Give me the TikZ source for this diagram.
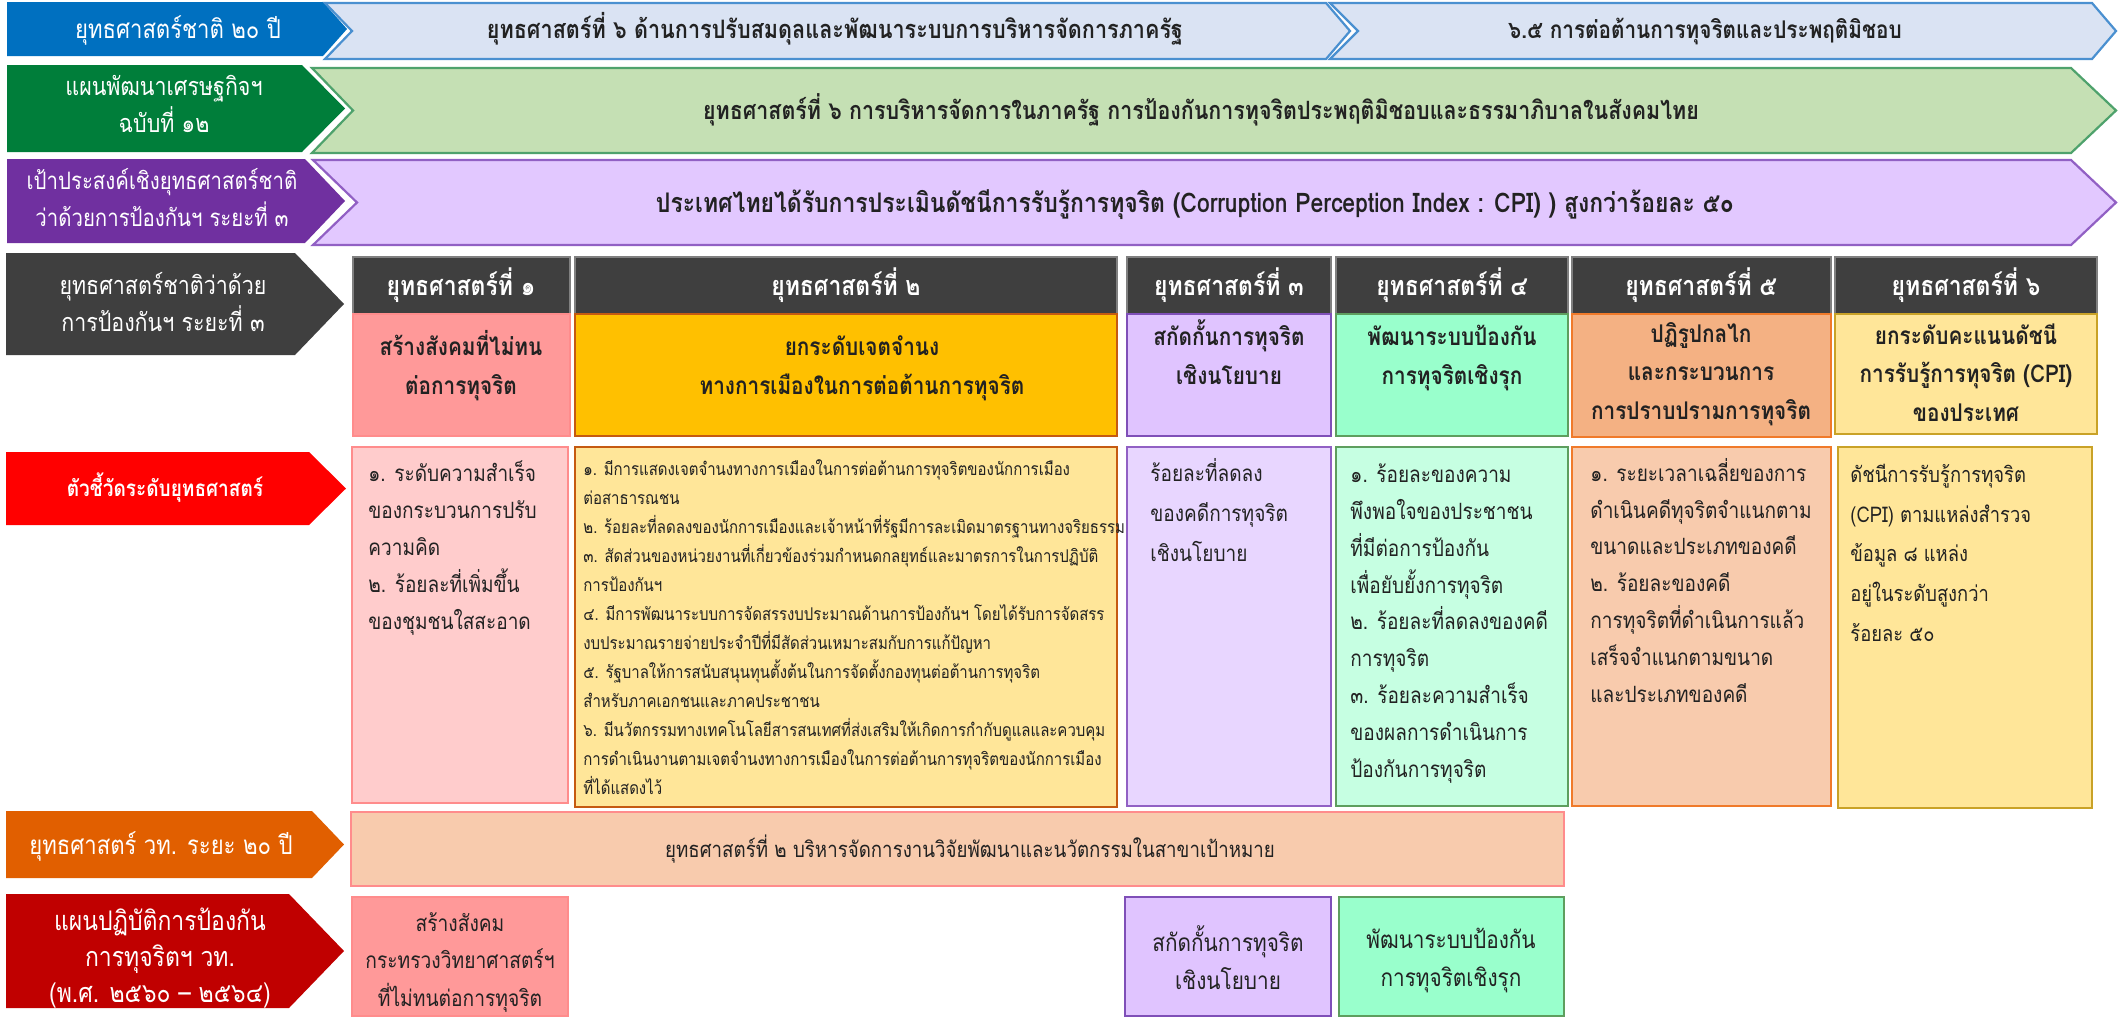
\documentclass[tikz,border=0pt]{standalone}
\usepackage{fontspec}
\newfontfamily\thaic[Script=Thai,FakeStretch=0.85]{Loma}
\definecolor{cBlue}{HTML}{0070C0}
\definecolor{cBlueL}{HTML}{DAE3F3}
\definecolor{cBlueB}{HTML}{4A90D0}
\definecolor{cGreen}{HTML}{007E3A}
\definecolor{cGreenL}{HTML}{C5E0B4}
\definecolor{cGreenB}{HTML}{4EA26C}
\definecolor{cPurp}{HTML}{7030A0}
\definecolor{cPurpL}{HTML}{E2C8FF}
\definecolor{cPurpB}{HTML}{9160C4}
\definecolor{cGray}{HTML}{3F3F3F}
\definecolor{cRed}{HTML}{FF0000}
\definecolor{cOrange}{HTML}{E15F00}
\definecolor{cDRed}{HTML}{C00000}
\definecolor{cPink}{HTML}{FF9999}
\definecolor{cPinkL}{HTML}{FFCCCC}
\definecolor{cPinkB}{HTML}{FF8C8C}
\definecolor{cGold}{HTML}{FFC000}
\definecolor{cGoldB}{HTML}{C55A11}
\definecolor{cYel}{HTML}{FFE699}
\definecolor{cYelB}{HTML}{C9A227}
\definecolor{cLav}{HTML}{E0C4FF}
\definecolor{cLavL}{HTML}{E8D6FF}
\definecolor{cLavB}{HTML}{7F4FB8}
\definecolor{cMint}{HTML}{99FFCC}
\definecolor{cMintL}{HTML}{C6FFE2}
\definecolor{cMintB}{HTML}{5E9E5E}
\definecolor{cSal}{HTML}{F4B183}
\definecolor{cPeach}{HTML}{F8CBAD}
\definecolor{cSalB}{HTML}{F07A2A}
\definecolor{cTxt}{HTML}{222222}
\newcommand{\tsz}[2]{\fontsize{#1}{#2}\selectfont\lineskiplimit=-100pt\lineskip=0pt\relax}
\newcommand{\chevlabel}[6]{% color, xl, top, xflat, xtip, bottom
  \fill[#1] (#2,#3) -- (#4,#3) -- (#5,{(#3+#6)/2}) -- (#4,#6) -- (#2,#6) -- cycle;}
\newcommand{\notcharrow}[8]{% fill, draw, xl, xnotch, xflat, xtip, top, bottom
  \filldraw[fill=#1,draw=#2,line width=1.1pt] (#3,#7) -- (#5,#7) -- (#6,{(#7+#8)/2}) -- (#5,#8) -- (#3,#8) -- (#4,{(#7+#8)/2}) -- cycle;}
\newcommand{\colbox}[6]{% fill, draw, xl, top, xr, bottom
  \filldraw[fill=#1,draw=#2,line width=0.9pt] (#3,#4) rectangle (#5,#6);}
\begin{document}
\begin{tikzpicture}[x=0.5pt,y=-0.5pt,
  lbl/.style={font={\thaic\tsz{12.6}{18.5}},text=white,align=center,anchor=base,inner sep=0pt},
  rowtxt/.style={font={\thaic\bfseries\tsz{13.5}{18.5}},text=cTxt,anchor=base,inner sep=0pt},
  hdr/.style={font={\thaic\bfseries\tsz{13.5}{18.5}},text=white,anchor=base,inner sep=0pt},
  bodytxt/.style={font={\thaic\bfseries\tsz{12.2}{19.2}},text=cTxt,align=center,anchor=base,inner sep=0pt},
  indtxt/.style={font={\thaic\tsz{11.2}{18.4}},text=cTxt,align=left,anchor=base west,inner sep=0pt},
  indtxtb/.style={font={\thaic\tsz{11.2}{19.8}},text=cTxt,align=left,anchor=base west,inner sep=0pt},
  smalltxt/.style={font={\thaic\tsz{8.8}{14.5}},text=cTxt,align=left,anchor=base west,inner sep=0pt},
  boxtxt/.style={font={\thaic\tsz{12.2}{19}},text=cTxt,align=center,anchor=base,inner sep=0pt}]
\useasboundingbox (0,0) rectangle (2118,1017);
\fill[white] (0,0) rectangle (2118,1017);
% ---------- row 1
\chevlabel{cBlue}{7}{2}{323}{347}{56}
\notcharrow{cBlueL}{cBlueB}{325}{352}{1326}{1350}{3}{59}
\notcharrow{cBlueL}{cBlueB}{1330}{1358}{2092}{2116}{3}{59}
\node[lbl,font={\thaic\tsz{13}{18.5}}] (l1) at (178,38) {ยุทธศาสตร์ชาติ ๒๐ ปี};
\node[rowtxt,font={\thaic\bfseries\tsz{12.7}{18.5}}] (t1a) at (835,39) {ยุทธศาสตร์ที่ ๖ ด้านการปรับสมดุลและพัฒนาระบบการบริหารจัดการภาครัฐ};
\node[rowtxt,font={\thaic\bfseries\tsz{12.2}{18.5}}] (t1b) at (1705,39) {๖.๕ การต่อต้านการทุจริตและประพฤติมิชอบ};
% ---------- row 2
\chevlabel{cGreen}{7}{65}{302}{345}{152}
\notcharrow{cGreenL}{cGreenB}{312}{353}{2071}{2116}{68}{153}
\node[lbl] (l2) at (164,132) {แผนพัฒนาเศรษฐกิจฯ\\ฉบับที่ ๑๒};
\node[rowtxt,font={\thaic\bfseries\tsz{12.6}{18.5}}] (t2) at (1201,119) {ยุทธศาสตร์ที่ ๖ การบริหารจัดการในภาครัฐ การป้องกันการทุจริตประพฤติมิชอบและธรรมาภิบาลในสังคมไทย};
% ---------- row 3
\chevlabel{cPurp}{7}{159}{305}{345}{243}
\notcharrow{cPurpL}{cPurpB}{313}{357}{2071}{2116}{160}{245}
\node[lbl,font={\thaic\tsz{12}{18.5}}] (l3) at (162,226) {เป้าประสงค์เชิงยุทธศาสตร์ชาติ\\ว่าด้วยการป้องกันฯ ระยะที่ ๓};
\node[rowtxt] (t3) at (1195,212) {ประเทศไทยได้รับการประเมินดัชนีการรับรู้การทุจริต (Corruption Perception Index : CPI) ) สูงกว่าร้อยละ ๕๐};
% ---------- row 4
\chevlabel{cGray}{6}{253}{295}{344}{355}
\node[lbl] (l4) at (163,331) {ยุทธศาสตร์ชาติว่าด้วย\\การป้องกันฯ ระยะที่ ๓};
% headers
\colbox{cGray}{gray}{353}{257}{570}{314}
\colbox{cGray}{gray}{575}{257}{1117}{314}
\colbox{cGray}{gray}{1127}{257}{1331}{314}
\colbox{cGray}{gray}{1336}{257}{1568}{314}
\colbox{cGray}{gray}{1572}{257}{1831}{314}
\colbox{cGray}{gray}{1835}{257}{2097}{314}
% bodies
\colbox{cPink}{cPinkB}{353}{314}{570}{436}
\colbox{cGold}{cGoldB}{575}{314}{1117}{436}
\colbox{cLav}{cLavB}{1127}{314}{1331}{436}
\colbox{cMint}{cMintB}{1336}{314}{1568}{436}
\colbox{cSal}{cSalB}{1572}{314}{1831}{437}
\colbox{cYel}{cYelB}{1835}{314}{2097}{434}
\node[hdr] (h1) at (461,295) {ยุทธศาสตร์ที่ ๑};
\node[hdr] (h2) at (846,295) {ยุทธศาสตร์ที่ ๒};
\node[hdr] (h3) at (1229,295) {ยุทธศาสตร์ที่ ๓};
\node[hdr] (h4) at (1452,295) {ยุทธศาสตร์ที่ ๔};
\node[hdr] (h5) at (1701,295) {ยุทธศาสตร์ที่ ๕};
\node[hdr] (h6) at (1966,295) {ยุทธศาสตร์ที่ ๖};
\node[bodytxt] (b1) at (461,394) {สร้างสังคมที่ไม่ทน\\ต่อการทุจริต};
\node[bodytxt] (b2) at (862,394) {ยกระดับเจตจำนง\\ทางการเมืองในการต่อต้านการทุจริต};
\node[bodytxt] (b3) at (1229,384) {สกัดกั้นการทุจริต\\เชิงนโยบาย};
\node[bodytxt] (b4) at (1452,384) {พัฒนาระบบป้องกัน\\การทุจริตเชิงรุก};
\node[bodytxt] (b5) at (1701,419) {ปฏิรูปกลไก\\และกระบวนการ\\การปราบปรามการทุจริต};
\node[bodytxt] (b6) at (1966,421) {ยกระดับคะแนนดัชนี\\การรับรู้การทุจริต (CPI)\\ของประเทศ};
% ---------- row 5
\chevlabel{cRed}{6}{452}{309}{346}{525}
\node[lbl,font={\thaic\bfseries\tsz{11.2}{18.5}}] (l5) at (165,496) {ตัวชี้วัดระดับยุทธศาสตร์};
\colbox{cPinkL}{cPinkB}{352}{447}{568}{803}
\colbox{cYel}{cGoldB}{575}{447}{1117}{807}
\colbox{cLavL}{cPurpB}{1127}{447}{1331}{806}
\colbox{cMintL}{cMintB}{1336}{447}{1568}{806}
\colbox{cPeach}{cSalB}{1572}{447}{1831}{806}
\colbox{cYel}{cYelB}{1838}{447}{2092}{808}
\node[indtxt] (i1) at (368,629) {๑. ระดับความสำเร็จ\\ของกระบวนการปรับ\\ความคิด\\๒. ร้อยละที่เพิ่มขึ้น\\ของชุมชนใสสะอาด};
\node[smalltxt] (i2) at (583,794) {๑. มีการแสดงเจตจำนงทางการเมืองในการต่อต้านการทุจริตของนักการเมือง\\ต่อสาธารณชน\\๒. ร้อยละที่ลดลงของนักการเมืองและเจ้าหน้าที่รัฐมีการละเมิดมาตรฐานทางจริยธรรม\\๓. สัดส่วนของหน่วยงานที่เกี่ยวข้องร่วมกำหนดกลยุทธ์และมาตรการในการปฏิบัติ\\การป้องกันฯ\\๔. มีการพัฒนาระบบการจัดสรรงบประมาณด้านการป้องกันฯ โดยได้รับการจัดสรร\\งบประมาณรายจ่ายประจำปีที่มีสัดส่วนเหมาะสมกับการแก้ปัญหา\\๕. รัฐบาลให้การสนับสนุนทุนตั้งต้นในการจัดตั้งกองทุนต่อต้านการทุจริต\\สำหรับภาคเอกชนและภาคประชาชน\\๖. มีนวัตกรรมทางเทคโนโลยีสารสนเทศที่ส่งเสริมให้เกิดการกำกับดูแลและควบคุม\\การดำเนินงานตามเจตจำนงทางการเมืองในการต่อต้านการทุจริตของนักการเมือง\\ที่ได้แสดงไว้};
\node[indtxtb] (i3) at (1150,561) {ร้อยละที่ลดลง\\ของคดีการทุจริต\\เชิงนโยบาย};
\node[indtxt] (i4) at (1350,777) {๑. ร้อยละของความ\\พึงพอใจของประชาชน\\ที่มีต่อการป้องกัน\\เพื่อยับยั้งการทุจริต\\๒. ร้อยละที่ลดลงของคดี\\การทุจริต\\๓. ร้อยละความสำเร็จ\\ของผลการดำเนินการ\\ป้องกันการทุจริต};
\node[indtxt] (i5) at (1590,702) {๑. ระยะเวลาเฉลี่ยของการ\\ดำเนินคดีทุจริตจำแนกตาม\\ขนาดและประเภทของคดี\\๒. ร้อยละของคดี\\การทุจริตที่ดำเนินการแล้ว\\เสร็จจำแนกตามขนาด\\และประเภทของคดี};
\node[indtxtb,font={\thaic\tsz{10.8}{19.8}}] (i6) at (1850,641) {ดัชนีการรับรู้การทุจริต\\(CPI) ตามแหล่งสำรวจ\\ข้อมูล ๘ แหล่ง\\อยู่ในระดับสูงกว่า\\ร้อยละ ๕๐};
% ---------- row 6
\chevlabel{cOrange}{6}{811}{312}{344}{878}
\node[lbl,font={\thaic\tsz{13}{18.5}}] (l6) at (161,854) {ยุทธศาสตร์ วท. ระยะ ๒๐ ปี};
\colbox{cPeach}{cPinkB}{351}{812}{1564}{886}
\node[boxtxt,font={\thaic\tsz{11}{19}}] (w6) at (970,857) {ยุทธศาสตร์ที่ ๒ บริหารจัดการงานวิจัยพัฒนาและนวัตกรรมในสาขาเป้าหมาย};
% ---------- row 7
\chevlabel{cDRed}{6}{894}{289}{344}{1008}
\node[lbl,font={\thaic\tsz{13.5}{18}}] (l7) at (160,1002) {แผนปฏิบัติการป้องกัน\\การทุจริตฯ วท.\\(พ.ศ. ๒๕๖๐ – ๒๕๖๔)};
\colbox{cPink}{cPinkB}{352}{897}{568}{1016}
\colbox{cLav}{cLavB}{1125}{897}{1331}{1016}
\colbox{cMint}{cMintB}{1339}{897}{1564}{1016}
\node[boxtxt,font={\thaic\tsz{11.3}{18.7}}] (p7) at (460,1006) {สร้างสังคม\\กระทรวงวิทยาศาสตร์ฯ\\ที่ไม่ทนต่อการทุจริต};
\node[boxtxt] (v7) at (1228,989) {สกัดกั้นการทุจริต\\เชิงนโยบาย};
\node[boxtxt] (m7) at (1451,986) {พัฒนาระบบป้องกัน\\การทุจริตเชิงรุก};
\end{tikzpicture}
\end{document}
